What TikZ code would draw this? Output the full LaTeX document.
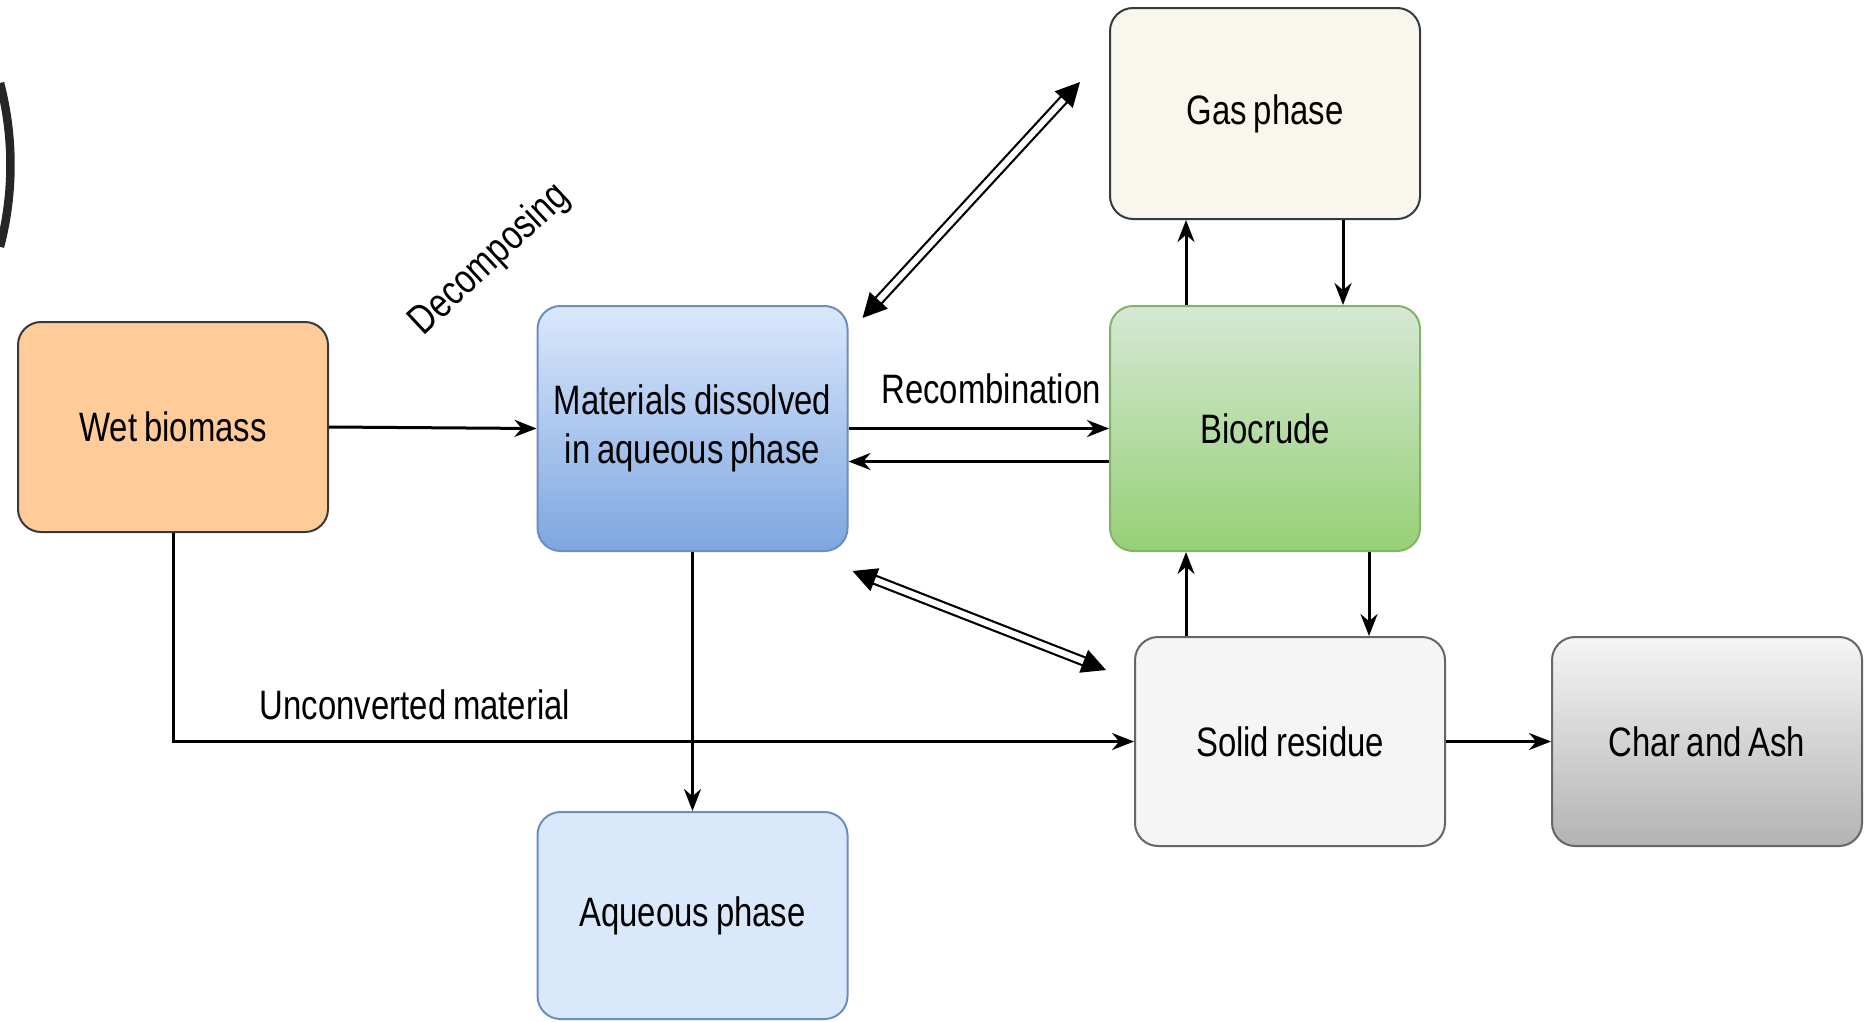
\documentclass[tikz,border=0pt]{standalone}
\usepackage{fontspec}
\setmainfont[FakeStretch=0.8,WordSpace=0.75]{Liberation Sans}
\usepackage{xcolor}
\usepackage{tikz}
\usetikzlibrary{arrows.meta}

\definecolor{wetfill}{HTML}{FFCC99}
\definecolor{darkline}{HTML}{36393D}
\definecolor{bluetop}{HTML}{DAE8FC}
\definecolor{bluebot}{HTML}{7EA6E0}
\definecolor{blueline}{HTML}{6C8EBF}
\definecolor{gasfill}{HTML}{F9F7ED}
\definecolor{greentop}{HTML}{D5E8D4}
\definecolor{greenbot}{HTML}{97D077}
\definecolor{greenline}{HTML}{82B366}
\definecolor{greyfill}{HTML}{F5F5F5}
\definecolor{greybot}{HTML}{B3B3B3}
\definecolor{greyline}{HTML}{666666}

\begin{document}
\begin{tikzpicture}[x=0.1mm,y=-0.1mm,
  box/.style={rounded corners=2.3mm, line width=0.2mm, minimum width=31mm, align=center, font=\fontsize{11.7}{14}\selectfont},
  arr/.style={line width=0.3mm, -{Stealth[length=2.2mm,width=1.7mm]}},
  dbl/.style={double, double distance=0.6mm, line width=0.22mm, {Triangle[length=2.4mm,width=2.4mm]}-{Triangle[length=2.4mm,width=2.4mm]}},
  lbl/.style={font=\fontsize{11.7}{14}\selectfont}]
\useasboundingbox (0,0) rectangle (1873,1021);

\draw[line width=0.85mm, color=black!85] (0,83) arc[start angle=-14.6, end angle=14.6, radius=325];

\node[box, minimum height=21mm, fill=wetfill, draw=darkline] (wet) at (173,427) {Wet biomass};
\node[box, minimum height=24.5mm, top color=bluetop, bottom color=bluebot, draw=blueline] (mat) at (692.5,428.5) {Materials dissolved\\in aqueous phase};
\node[box, minimum height=21.1mm, fill=gasfill, draw=darkline] (gas) at (1265,113.5) {Gas phase};
\node[box, minimum height=24.5mm, top color=greentop, bottom color=greenbot, draw=greenline] (bio) at (1265,428.5) {Biocrude};
\node[box, minimum height=20.9mm, fill=greyfill, draw=greyline] (solid) at (1290,741.5) {Solid residue};
\node[box, minimum height=20.9mm, top color=greyfill, bottom color=greybot, draw=greyline] (char) at (1707,741.5) {Char and Ash};
\node[box, minimum height=20.7mm, fill=bluetop, draw=blueline] (aq) at (692.5,915.5) {Aqueous phase};

\node[lbl] (reco) at (991,389) {Recombination};
\node[lbl] (unconv) at (415,705) {Unconverted material};
\node[lbl, rotate=43] (decomp) at (490,260) {Decomposing};

\draw[arr] (wet.east) -- (mat.west);
\draw[arr] (mat.east) -- (bio.west);
\draw[arr] ([yshift=-3.3mm]bio.west) -- ([yshift=-3.3mm]mat.east);
\draw[arr] (mat.south) -- (aq.north);
\draw[arr] (wet.south) |- (solid.west);
\draw[arr] (solid.east) -- (char.west);
\draw[arr] ([xshift=-7.9mm]bio.north) -- ([xshift=-7.9mm]bio.north |- gas.south);
\draw[arr] ([xshift=7.8mm]gas.south) -- ([xshift=7.8mm]gas.south |- bio.north);
\draw[arr] ([xshift=-7.9mm]bio.south |- solid.north) -- ([xshift=-7.9mm]bio.south);
\draw[arr] ([xshift=10.4mm]bio.south) -- ([xshift=10.4mm]bio.south |- solid.north);

\draw[dbl] ([shift={(14,13)}]mat.north east) -- ([shift={(-29,-138)}]gas.south west);
\draw[dbl] ([shift={(4,19)}]mat.south east) -- ([shift={(-28,34)}]solid.north west);
\end{tikzpicture}
\end{document}
